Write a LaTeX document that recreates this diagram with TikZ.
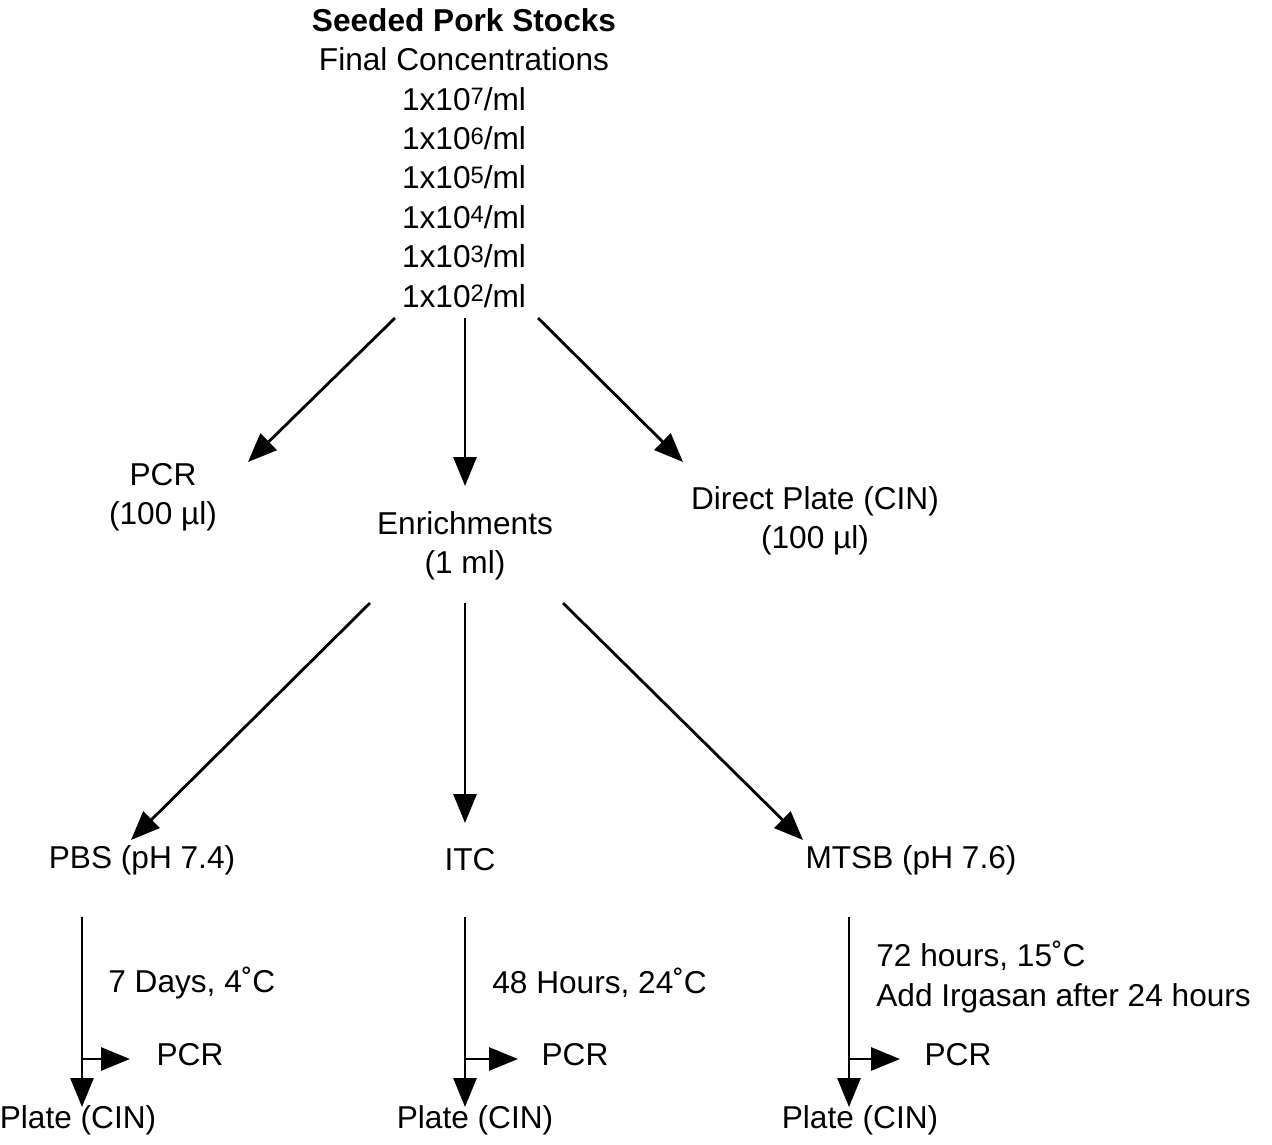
\documentclass[tikz,border=0pt]{standalone}
\usepackage{fontspec}
\setmainfont{Liberation Sans}
\usepackage{tikz}
\usetikzlibrary{positioning,calc,arrows.meta}

\newcommand{\expo}[1]{\raisebox{3.2pt}{\fontsize{13.5}{13.5}\selectfont #1}}

\tikzset{
  lbl/.style={align=center,inner sep=0pt,font=\fontsize{18}{22.4}\selectfont},
  note/.style={lbl,align=left,anchor=west},
  arr/.style={-{Triangle[length=0.58cm,width=0.46cm]},line width=1.6pt},
}

\begin{document}
\begin{tikzpicture}[x=0.02cm,y=-0.02cm]
  \useasboundingbox (0,0) rectangle (1272,1144);

  % stocks
  \node[lbl] (stocks) at (464,158) {\textbf{Seeded Pork Stocks}\\Final Concentrations\\
    1x10\expo{7}/ml\\1x10\expo{6}/ml\\1x10\expo{5}/ml\\
    1x10\expo{4}/ml\\1x10\expo{3}/ml\\1x10\expo{2}/ml};

  \node[lbl] (pcr) at (163,497) {PCR\\(100 µl)};
  \node[lbl] (enrich) at (465,546) {Enrichments\\(1 ml)};
  \node[lbl] (direct) at (815,521) {Direct Plate (CIN)\\(100 µl)};

  \node[lbl] (pbs) at (142,860) {PBS (pH 7.4)};
  \node[lbl] (itc) at (470,860) {ITC};
  \node[lbl] (mtsb) at (911,860) {MTSB (pH 7.6)};

  \node[note] (pbsnote) at (108,983) {7 Days, 4˚C};
  \node[note] (itcnote) at (492,983) {48 Hours, 24˚C};
  \node[note] (mtsbnote) at (876,977) {72 hours, 15˚C\\Add Irgasan after 24 hours};

  \node[lbl] (pcrA) at (190,1055) {PCR};
  \node[lbl] (pcrB) at (575,1055) {PCR};
  \node[lbl] (pcrC) at (958,1055) {PCR};

  \node[lbl] (plateA) at (78,1120) {Plate (CIN)};
  \node[lbl] (plateB) at (475,1120) {Plate (CIN)};
  \node[lbl] (plateC) at (860,1120) {Plate (CIN)};

  % first split
  \draw[arr] ($(stocks)+(-69,160)$) -- ($(pcr)+(85,-35)$);
  \draw[arr] ($(stocks)+(1,160)$) -- ($(enrich)+(0,-60)$);
  \draw[arr] ($(stocks)+(74,160)$) -- ($(direct)+(-132,-59)$);

  % enrichments
  \draw[arr] ($(enrich)+(-95,57)$) -- ($(pbs)+(-11,-20)$);
  \draw[arr] ($(enrich)+(0,57)$) -- ($(itc)+(-5,-37)$);
  \draw[arr] ($(enrich)+(98,57)$) -- ($(mtsb)+(-108,-20)$);

  % incubation lines
  \draw[arr] ($(pbs)+(-60,57)$) -- ($(plateA)+(4,-13)$);
  \draw[arr] ($(itc)+(-5,57)$) -- ($(plateB)+(-10,-13)$);
  \draw[arr] ($(mtsb)+(-62,57)$) -- ($(plateC)+(-11,-13)$);

  \draw[arr] ($(pcrA)+(-108,4)$) -- ($(pcrA)+(-60,4)$);
  \draw[arr] ($(pcrB)+(-110,4)$) -- ($(pcrB)+(-57,4)$);
  \draw[arr] ($(pcrC)+(-109,4)$) -- ($(pcrC)+(-58,4)$);
\end{tikzpicture}
\end{document}
